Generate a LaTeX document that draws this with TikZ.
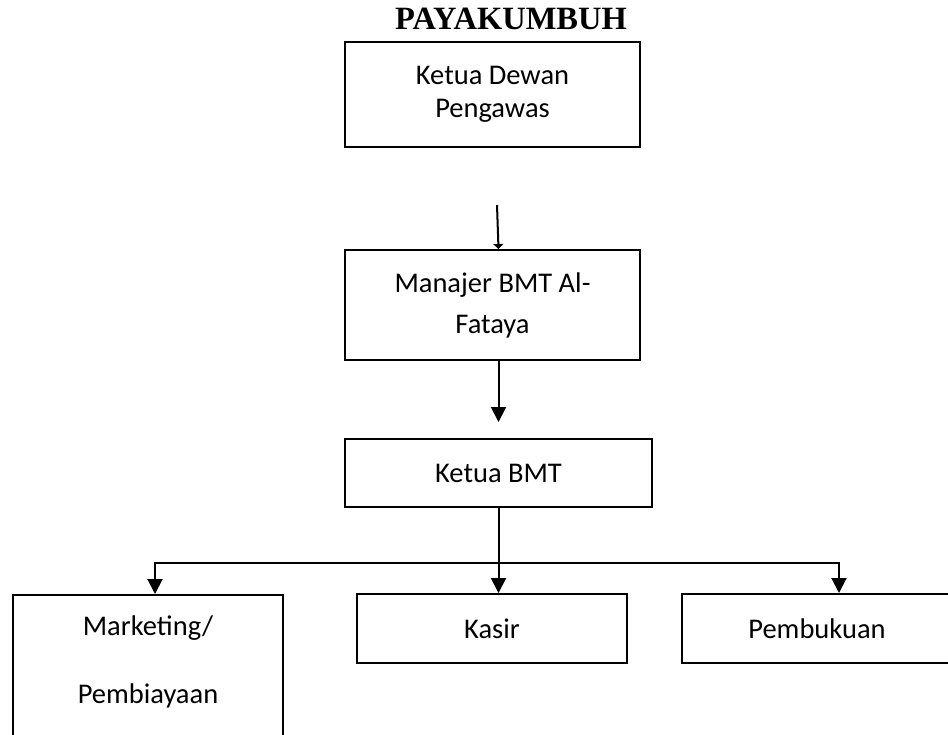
\documentclass[tikz,border=0pt]{standalone}
\usepackage{fontspec}
\setmainfont{Carlito}
\newfontfamily\titlefont{Liberation Serif}
\usetikzlibrary{arrows.meta}

\begin{document}
\begin{tikzpicture}[x=1pt,y=-1pt,
    box/.style={draw,line width=2pt,rectangle,inner sep=0pt,align=center,font=\fontsize{28.5}{33}\selectfont},
    arr/.style={line width=2pt,-{Triangle[length=15pt,width=15pt]}}]
      \useasboundingbox (0,0) rectangle (948,734);
      \node[font=\titlefont\bfseries\fontsize{32.5}{36}\selectfont] (title) at (511,19) {PAYAKUMBUH};
      % boxes
      \node[box,minimum width=295pt,minimum height=105pt] (dewan) at (492.5,94.5) {Ketua Dewan\\Pengawas};
      \node[box,minimum width=295pt,minimum height=110pt] (mgr) at (492.5,305) {Manajer BMT Al-\\[8pt]Fataya};
      \node[box,minimum width=307pt,minimum height=68pt] (ketua) at (498.5,473) {Ketua BMT};
      \node[box,minimum width=270pt,minimum height=206pt,anchor=north] (mkt) at (148,594) {};
      \node[align=center,font=\fontsize{28.5}{33}\selectfont,inner sep=0pt] (mkttext) at (148,662) {Marketing/\\[35pt]Pembiayaan};
      \node[box,minimum width=270pt,minimum height=69pt] (kasir) at (492,628.5) {Kasir};
      \node[box,minimum width=282pt,minimum height=69pt,anchor=west] (buku) at (681,628.5) {};
      \node[font=\fontsize{28.5}{33}\selectfont,inner sep=0pt] (bukutext) at (817,628.5) {Pembukuan};
      % connectors
      \coordinate (gap) at (497,205);
      \draw[line width=2pt,-{Triangle[length=5pt,width=10pt]}] (gap) -- ([xshift=6pt]mgr.north);
      \draw[arr,shorten >=16pt] (ketua.north |- mgr.south) -- (ketua.north);
      \coordinate (split) at (498.5,563);
      \draw[line width=2pt] (ketua.south) -- (split);
      \draw[arr] (split) -- (split |- kasir.north);
      \draw[arr] (split) -| ([xshift=7pt]mkt.north);
      \draw[arr] (split) -| ([xshift=22pt]bukutext.north |- buku.north);
\end{tikzpicture}
\end{document}
